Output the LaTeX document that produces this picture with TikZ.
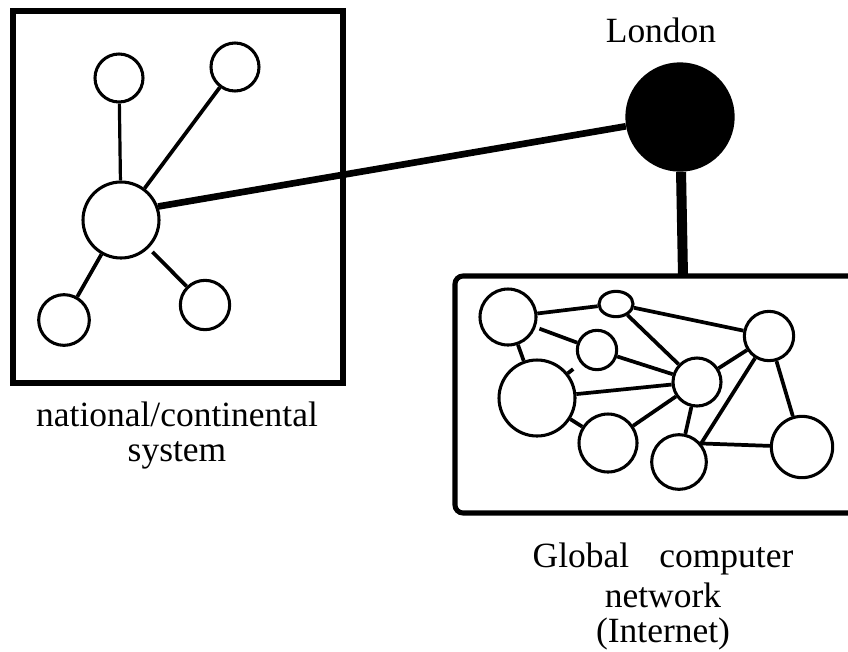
\documentclass[tikz,border=0pt]{standalone}
\usepackage{fontspec}
\setmainfont{Liberation Serif}
\usepackage{tikz}
\usetikzlibrary{shapes.geometric}

\tikzset{
  site/.style={shape=circle,draw=black,line width=2.3pt,inner sep=0pt},
  link/.style={line width=2.8pt},
  frame/.style={line width=3.8pt},
  caption/.style={font=\fontsize{26.6}{27}\selectfont,align=center,inner sep=0pt}
}

\begin{document}
\begin{tikzpicture}[x=0.75pt,y=-0.75pt]
        \useasboundingbox (0,0) rectangle (848,651);

        % national/continental system
        \draw[frame] (13,11) rectangle (343,383);
        \node[site,minimum size=36pt] (tl) at (119,78) {};
        \node[site,minimum size=36pt] (tr) at (235,67) {};
        \node[site,minimum size=57pt] (hub) at (121,220) {};
        \node[site,minimum size=38pt] (bl) at (64,320) {};
        \node[site,minimum size=37pt] (br) at (205,305) {};

        \path [link, line width=2.4pt] (hub) edge (tl);
        \path [link] (hub) edge (tr);
        \path [link] (hub) edge (bl);
        \path [link] (hub) edge [shorten <=4pt] (br);

        % London
        \node[shape=circle,fill=black,inner sep=0pt,minimum size=82pt] (london) at (680,117) {};
        \node[caption,anchor=base] (londonlabel) at (661,42) {London};
        \coordinate (nettop) at (683,276);
        \path [line width=5pt] (hub.20) edge (london);
        \path [line width=7.5pt] (london) edge (nettop);

        % global computer network
        \draw[frame,rounded corners=6pt] (455,276) rectangle (880,513);
        \node[site,minimum size=42pt] (a) at (508,317) {};
        \node[site,shape=ellipse,minimum width=25.5pt,minimum height=19pt] (b) at (616,304) {};
        \node[site,minimum size=29.5pt] (c) at (597,350) {};
        \node[site,minimum size=37pt] (d) at (769,336) {};
        \node[site,minimum size=36pt] (e) at (697,382) {};
        \node[site,minimum size=57pt] (f) at (537,398) {};
        \node[site,minimum size=43.5pt] (g) at (608,443) {};
        \node[site,minimum size=41pt] (h) at (679,462) {};
        \node[site,minimum size=46pt] (i) at (802,447) {};

        \path [link] (a) edge (b);
        \path [link] (b) edge (d);
        \path [link] (b) edge (e);
        \path [link] (a) edge [shorten <=3pt] (c);
        \path [link] (c) edge (e);
        \path [link] (a) edge (f);
        \path [link] (f) edge [shorten >=7pt] (c);
        \path [link] (f) edge (e);
        \path [link] (f) edge (g);
        \path [link] (g) edge (e);
        \path [link] (e) edge (d);
        \path [link] (e) edge (h);
        \path [link] (h.40) edge (d);
        \path [link] (h.40) edge (i);
        \path [link] (d) edge (i);

        % labels
        \node[caption,anchor=north] (natlabel) at (177,402) {national/continental\\[-1pt]system};
        \node[caption,anchor=north] (netlabel) at (663,543) {Global\hspace{0.6em} computer\\[3pt]network\\[-1pt](Internet)};
\end{tikzpicture}
\end{document}
